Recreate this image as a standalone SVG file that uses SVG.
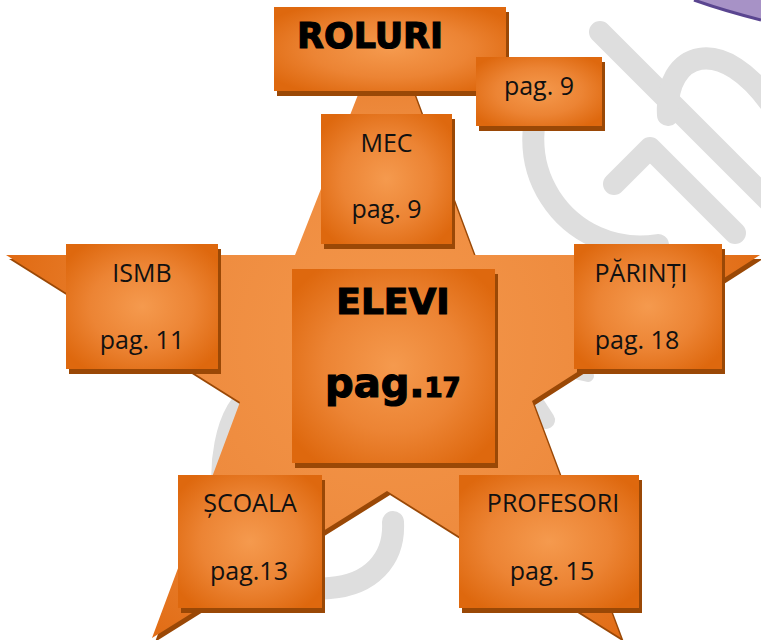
<svg xmlns="http://www.w3.org/2000/svg" width="761" height="640" viewBox="0 0 761 640">
  <defs>
    <radialGradient id="boxg" cx="0.5" cy="0.5" r="0.62">
      <stop offset="0" stop-color="#f59a4e"/>
      <stop offset="0.55" stop-color="#ec8434"/>
      <stop offset="1" stop-color="#de680e"/>
    </radialGradient>
    <radialGradient id="starg" gradientUnits="userSpaceOnUse" cx="387" cy="340" r="390">
      <stop offset="0" stop-color="#f4974b"/>
      <stop offset="0.55" stop-color="#ee8b3e"/>
      <stop offset="1" stop-color="#e06a12"/>
    </radialGradient>
    <style>
      .shadow{fill:#9a4806}
      .box{fill:url(#boxg)}
      .lbl{font-family:"Open Sans","Liberation Sans",sans-serif;font-size:25px;fill:#111;text-anchor:middle}
      .big{font-family:"DejaVu Sans","Liberation Sans",sans-serif;font-weight:bold;fill:#000;stroke:#000;stroke-width:1.2px}
      .wm{fill:none;stroke:#dedede;stroke-width:22;stroke-linecap:round;stroke-linejoin:round}
    </style>
  </defs>

  <rect width="761" height="640" fill="#ffffff"/>

  <!-- watermark -->
  <g id="watermark">
    <path class="wm" d="M600,32 L790,222"/>
    <path class="wm" d="M668,115 C664,52 722,30 775,110"/>
    <path class="wm" d="M552,79 A107,107 0 0 0 658,245"/>
    <path class="wm" d="M614,184 L650,148 L735,233"/>
    <path class="wm" d="M255,392 C225,410 215,470 228,520 C242,575 290,592 330,588 C370,585 395,560 393,522"/>
    <path class="wm" style="stroke-width:18" d="M537,406 L546,420"/>
    <path class="wm" style="stroke-width:12" d="M579,374 L588,376"/>
  </g>

  <!-- purple corner shape -->
  <g id="corner">
    <path d="M694,0 Q722,10 761,20 L761,0 Z" fill="#a792c6"/>
    <path d="M694,0 Q722,10 761,20" fill="none" stroke="#5a4590" stroke-width="3"/>
  </g>

  <!-- star -->
  <g id="star">
    <polygon class="shadow" transform="translate(3,4)" points="387,21 474,255 760,255 532,401 621,638 387,491 152,638 240,402 6,255 295,255"/>
    <polygon fill="url(#starg)" points="387,21 474,255 760,255 532,401 621,638 387,491 152,638 240,402 6,255 295,255"/>
  </g>

  <g id="connectors"/>

  <g id="roluri">
    <rect class="shadow" x="277" y="12" width="232" height="84"/>
    <rect class="box" x="274" y="7" width="232" height="84"/>
    <text class="big" x="297" y="48" font-size="36" textLength="146" lengthAdjust="spacingAndGlyphs">ROLURI</text>
  </g>

  <g id="roluri-pag">
    <rect class="shadow" x="479" y="62" width="126" height="69"/>
    <rect class="box" x="476" y="57" width="126" height="69"/>
    <text class="lbl" x="539" y="95">pag. 9</text>
  </g>

  <g id="mec">
    <rect class="shadow" x="324" y="119" width="131" height="130"/>
    <rect class="box" x="321" y="114" width="131" height="130"/>
    <text class="lbl" x="386.5" y="152">MEC</text>
    <text class="lbl" x="386.5" y="218">pag. 9</text>
  </g>

  <g id="ismb">
    <rect class="shadow" x="69" y="249" width="152" height="125"/>
    <rect class="box" x="66" y="244" width="152" height="125"/>
    <text class="lbl" x="142" y="282">ISMB</text>
    <text class="lbl" x="142" y="349">pag. 11</text>
  </g>

  <g id="parinti">
    <rect class="shadow" x="577" y="249" width="148" height="125"/>
    <rect class="box" x="574" y="244" width="148" height="125"/>
    <text class="lbl" x="641" y="282">PĂRINȚI</text>
    <text class="lbl" x="637" y="349">pag. 18</text>
  </g>

  <g id="elevi">
    <rect class="shadow" x="295" y="274" width="203" height="194"/>
    <rect class="box" x="292" y="269" width="203" height="194"/>
    <text class="big" x="393" y="314" font-size="36" text-anchor="middle">ELEVI</text>
    <text class="big" x="325" y="397"><tspan font-size="40">pag.</tspan><tspan font-size="26">17</tspan></text>
  </g>

  <g id="scoala">
    <rect class="shadow" x="181" y="480" width="144" height="133"/>
    <rect class="box" x="178" y="475" width="144" height="133"/>
    <text class="lbl" x="250" y="512">ȘCOALA</text>
    <text class="lbl" x="249" y="580">pag.13</text>
  </g>

  <g id="profesori">
    <rect class="shadow" x="462" y="480" width="180" height="133"/>
    <rect class="box" x="459" y="475" width="180" height="133"/>
    <text class="lbl" x="553" y="512">PROFESORI</text>
    <text class="lbl" x="552" y="580">pag. 15</text>
  </g>
</svg>
